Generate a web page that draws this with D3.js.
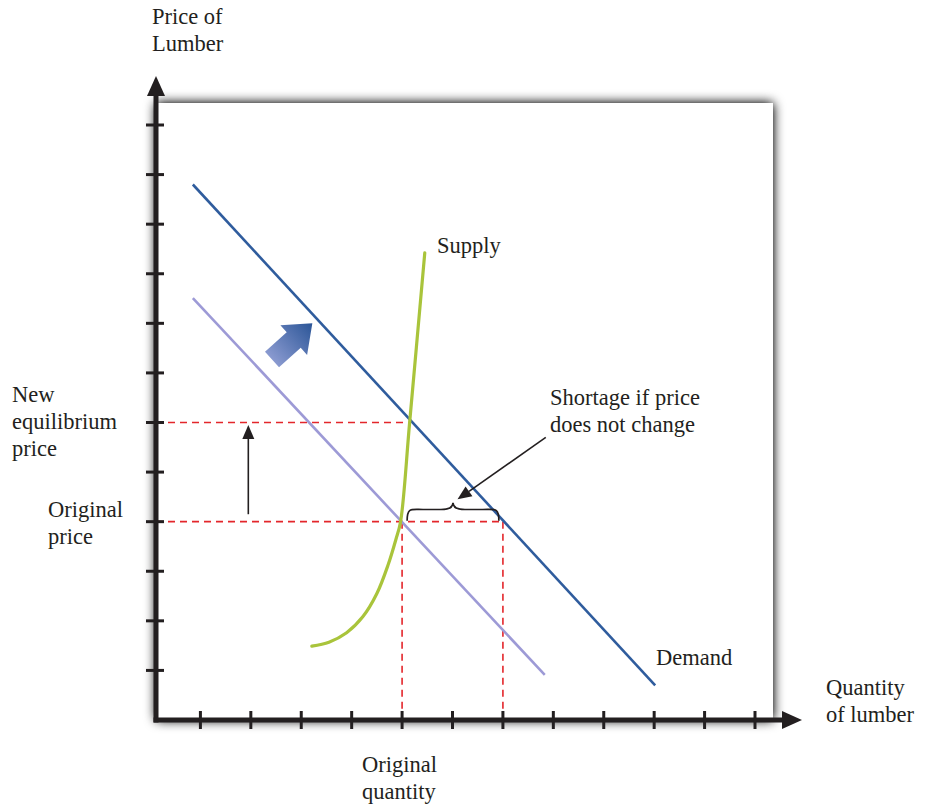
<!DOCTYPE html>
<html>
<head>
<meta charset="utf-8">
<script src="https://cdn.jsdelivr.net/npm/d3@7/dist/d3.min.js"></script>
<style>
  html, body { margin: 0; padding: 0; background: #ffffff; }
  svg { display: block; }
  text { font-family: "Liberation Serif", "Times New Roman", serif; fill: #231f20; }
</style>
</head>
<body>
<svg id="chart" width="926" height="804"></svg>
<script>
// ---------- DATA ----------
const xTicks = [1, 2, 3, 4, 5, 6, 7, 8, 9, 10, 11, 12];
const yTicks = [1, 2, 3, 4, 5, 6, 7, 8, 9, 10, 11, 12];

const newDemand = [[0.85, 10.8], [10.02, 0.7]];
const oldDemand = [[0.85, 8.51], [7.83, 0.91]];
const supply = [
  [3.21, 1.49], [3.55, 1.57], [3.90, 1.76], [4.22, 2.08], [4.50, 2.55],
  [4.72, 3.12], [4.88, 3.65], [4.97, 4.0], [5.15, 6.0], [5.45, 9.42]
];

const originalPrice = 4;
const newPrice = 6;
const originalQuantity = 5;
const newEqQuantity = 5.16;
const demandAtOriginalPrice = 7;

const labels = {
  yTitle: ["Price of", "Lumber"],
  xTitle: ["Quantity", "of lumber"],
  newEq: ["New", "equilibrium", "price"],
  origPrice: ["Original", "price"],
  origQty: ["Original", "quantity"],
  supply: "Supply",
  demand: "Demand",
  shortage: ["Shortage if price", "does not change"]
};

// ---------- SCALES ----------
const x = d3.scaleLinear().domain([0, 12]).range([150, 755]);
const y = d3.scaleLinear().domain([0, 12]).range([720, 125]);

const svg = d3.select("#chart");
const defs = svg.append("defs");

// shadow filter
const f = defs.append("filter").attr("id", "shadow")
  .attr("x", "-10%").attr("y", "-10%").attr("width", "120%").attr("height", "120%");
f.append("feGaussianBlur").attr("in", "SourceAlpha").attr("stdDeviation", 6).attr("result", "blur");
f.append("feComponentTransfer").attr("in", "blur").attr("result", "sh")
  .append("feFuncA").attr("type", "linear").attr("slope", 1.2);
const fm = f.append("feMerge");
fm.append("feMergeNode").attr("in", "sh");
fm.append("feMergeNode").attr("in", "SourceGraphic");

// gradient for big arrow
const grad = defs.append("linearGradient").attr("id", "arrowGrad")
  .attr("x1", "0%").attr("y1", "0%").attr("x2", "100%").attr("y2", "0%");
grad.append("stop").attr("offset", "0%").attr("stop-color", "#8a9ad0");
grad.append("stop").attr("offset", "100%").attr("stop-color", "#2b5597");

// ---------- PANEL ----------
const axisX = 156, axisY = y(0);
svg.append("rect")
  .attr("x", axisX).attr("y", 103)
  .attr("width", 773 - axisX).attr("height", axisY - 103)
  .attr("fill", "#ffffff")
  .attr("filter", "url(#shadow)");

// ---------- DASHED GUIDES ----------
const red = "#e3262b";
const dashG = svg.append("g").attr("stroke", red).attr("stroke-width", 1.6)
  .attr("stroke-dasharray", "7,5").attr("fill", "none");
dashG.append("line").attr("x1", axisX).attr("x2", x(newEqQuantity))
  .attr("y1", y(newPrice)).attr("y2", y(newPrice));
dashG.append("line").attr("x1", axisX).attr("x2", x(demandAtOriginalPrice))
  .attr("y1", y(originalPrice)).attr("y2", y(originalPrice));
dashG.append("line").attr("x1", x(originalQuantity)).attr("x2", x(originalQuantity))
  .attr("y1", y(originalPrice)).attr("y2", axisY);
dashG.append("line").attr("x1", x(demandAtOriginalPrice)).attr("x2", x(demandAtOriginalPrice))
  .attr("y1", y(originalPrice)).attr("y2", axisY);

// ---------- CURVES ----------
const line = d3.line().x(d => x(d[0])).y(d => y(d[1]));
svg.append("path").datum(oldDemand).attr("d", line)
  .attr("fill", "none").attr("stroke", "#9d9ad6").attr("stroke-width", 2.6);
svg.append("path").datum(newDemand).attr("d", line)
  .attr("fill", "none").attr("stroke", "#2f5c9d").attr("stroke-width", 2.6);
const smooth = d3.line().x(d => x(d[0])).y(d => y(d[1])).curve(d3.curveCatmullRom.alpha(0.5));
svg.append("path").datum(supply).attr("d", smooth)
  .attr("fill", "none").attr("stroke", "#a9c43b").attr("stroke-width", 3.2)
  .attr("stroke-linecap", "round");

// ---------- AXES ----------
const ink = "#231f20";
svg.append("line").attr("x1", axisX).attr("x2", axisX)
  .attr("y1", axisY + 2.5).attr("y2", 96)
  .attr("stroke", ink).attr("stroke-width", 5);
svg.append("path")
  .attr("d", `M${axisX},76 L${axisX - 9},96 L${axisX + 9},96 Z`)
  .attr("fill", ink);
svg.append("line").attr("x1", axisX - 2.5).attr("x2", 784)
  .attr("y1", axisY).attr("y2", axisY)
  .attr("stroke", ink).attr("stroke-width", 5);
svg.append("path")
  .attr("d", `M802,${axisY} L782,${axisY - 9} L782,${axisY + 9} Z`)
  .attr("fill", ink);

svg.append("g").selectAll("line").data(xTicks).join("line")
  .attr("x1", d => x(d)).attr("x2", d => x(d))
  .attr("y1", axisY - 9).attr("y2", axisY + 9)
  .attr("stroke", ink).attr("stroke-width", 3);
svg.append("g").selectAll("line").data(yTicks).join("line")
  .attr("x1", axisX - 10).attr("x2", axisX + 8)
  .attr("y1", d => y(d)).attr("y2", d => y(d))
  .attr("stroke", ink).attr("stroke-width", 3);

// ---------- ANNOTATIONS ----------
const pa = { x: 1.95, y0: 4.15, y1: 5.95 };
svg.append("line").attr("x1", x(pa.x)).attr("x2", x(pa.x))
  .attr("y1", y(pa.y0)).attr("y2", y(pa.y1) + 12)
  .attr("stroke", ink).attr("stroke-width", 1.6);
svg.append("path")
  .attr("d", `M${x(pa.x)},${y(pa.y1)} L${x(pa.x) - 6},${y(pa.y1) + 14} L${x(pa.x) + 6},${y(pa.y1) + 14} Z`)
  .attr("fill", ink);

// brace over shortage
const bx0 = x(5.1), bx1 = x(6.92), by = y(originalPrice) - 1, bh = 18;
const bm = (bx0 + bx1) / 2;
svg.append("path")
  .attr("d", `M${bx0},${by} C${bx0},${by - bh * 0.75} ${bx0 + 4},${by - bh * 0.62} ${bx0 + 16},${by - bh * 0.62}
              L${bm - 12},${by - bh * 0.62} C${bm - 3},${by - bh * 0.62} ${bm},${by - bh * 0.75} ${bm},${by - bh}
              C${bm},${by - bh * 0.75} ${bm + 3},${by - bh * 0.62} ${bm + 12},${by - bh * 0.62}
              L${bx1 - 16},${by - bh * 0.62} C${bx1 - 4},${by - bh * 0.62} ${bx1},${by - bh * 0.75} ${bx1},${by}`)
  .attr("fill", "none").attr("stroke", ink).attr("stroke-width", 1.7);

// shortage pointer arrow
const s0 = [7.85, 5.7], s1 = [6.1, 4.45];
{
  const X0 = x(s0[0]), Y0 = y(s0[1]), X1 = x(s1[0]), Y1 = y(s1[1]);
  const ang = Math.atan2(Y1 - Y0, X1 - X0);
  const hl = 14, hw = 6;
  const bxp = X1 - hl * Math.cos(ang), byp = Y1 - hl * Math.sin(ang);
  svg.append("line").attr("x1", X0).attr("y1", Y0).attr("x2", bxp).attr("y2", byp)
    .attr("stroke", ink).attr("stroke-width", 1.6);
  svg.append("path")
    .attr("d", `M${X1},${Y1} L${bxp - hw * Math.sin(ang)},${byp + hw * Math.cos(ang)} L${bxp + hw * Math.sin(ang)},${byp - hw * Math.cos(ang)} Z`)
    .attr("fill", ink);
}

// big blue shift arrow
const ba0 = [2.42, 7.27], ba1 = [3.22, 8.0];
{
  const X0 = x(ba0[0]), Y0 = y(ba0[1]), X1 = x(ba1[0]), Y1 = y(ba1[1]);
  const len = Math.hypot(X1 - X0, Y1 - Y0);
  const ang = Math.atan2(Y1 - Y0, X1 - X0) * 180 / Math.PI;
  const hl = 25, hw = 20, sw = 10.5;
  svg.append("path")
    .attr("d", `M0,${-sw} L${len - hl},${-sw} L${len - hl},${-hw} L${len},0 L${len - hl},${hw} L${len - hl},${sw} L0,${sw} Z`)
    .attr("transform", `translate(${X0},${Y0}) rotate(${ang})`)
    .attr("fill", "url(#arrowGrad)");
}

// ---------- TEXT ----------
const fs = 22.5, lh = 27;
function block(lines, x0, y0, anchor) {
  const t = svg.append("text").attr("font-size", fs).attr("text-anchor", anchor || "start");
  lines.forEach((s, i) => t.append("tspan").attr("x", x0).attr("y", y0 + i * lh).text(s));
}
block(labels.yTitle, 152, 24);
block(labels.xTitle, 826, 695);
block(labels.newEq, 12, 402);
block(labels.origPrice, 48, 517);
block(labels.origQty, 362, 772);
block([labels.supply], 437, 253);
block([labels.demand], 656, 665);
block(labels.shortage, 550, 405);
</script>
</body>
</html>
